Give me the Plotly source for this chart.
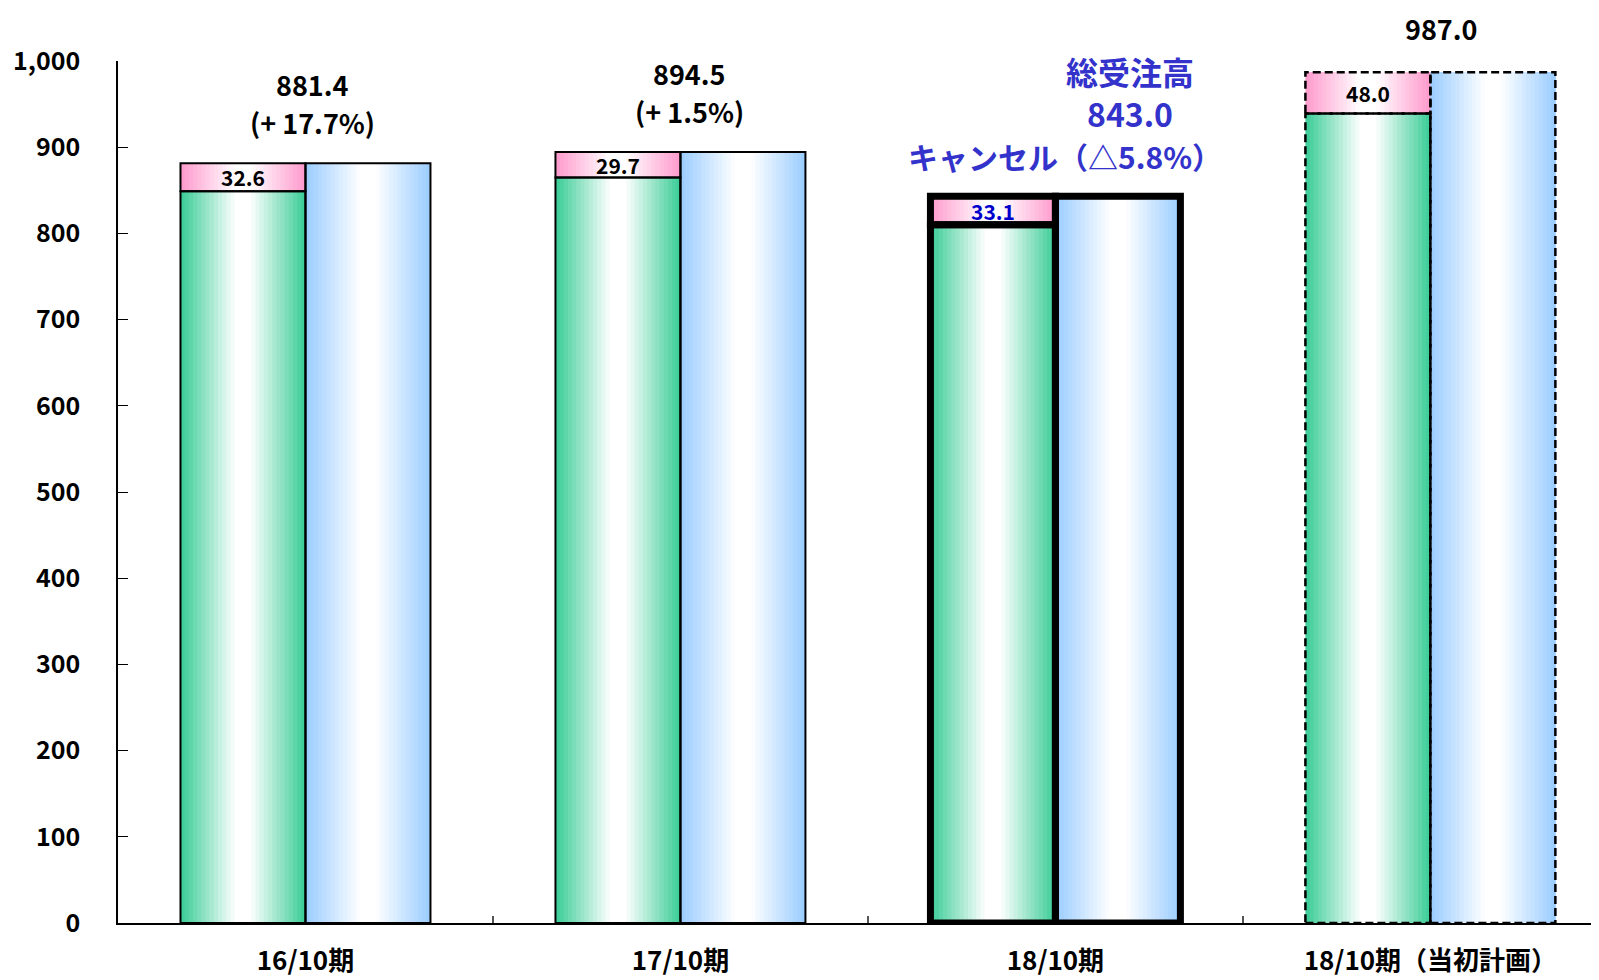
import plotly.graph_objects as go

# ---- data ----
categories = ["16/10期", "17/10期", "18/10期", "18/10期（当初計画）"]
total_orders = [881.4, 894.5, 843.0, 987.0]
cancels = [32.6, 29.7, 33.1, 48.0]
growth_labels = ["(+ 17.7%)", "(+ 1.5%)", "（△5.8%）", ""]
y_ticks = [0, 100, 200, 300, 400, 500, 600, 700, 800, 900, 1000]

net_orders = [t - c for t, c in zip(total_orders, cancels)]
xs = list(range(len(categories)))

FONT = "Noto Sans CJK JP"
GREEN = (56, 204, 150)
BLUE = (153, 204, 255)
PINK = (255, 153, 204)
BAR_W = 1 / 3
N_STRIPS = 30


def grad_color(edge, t):
    d = abs(t - 0.5) * 2
    f = max(0.0, min(1.0, (d - 0.12) / 0.88))
    r, g, b = [round(255 + (e - 255) * f) for e in edge]
    return f"rgb({r},{g},{b})"


fig = go.Figure()


def add_gradient_bars(offset0, edge, y, base=None):
    for k in range(N_STRIPS):
        t = (k + 0.5) / N_STRIPS
        start = offset0 + BAR_W * k / N_STRIPS
        fig.add_trace(go.Bar(
            x=xs, y=y, base=base,
            offset=start, width=BAR_W - BAR_W * k / N_STRIPS,
            marker=dict(color=grad_color(edge, t), line=dict(width=0)),
            hoverinfo="skip", showlegend=False,
        ))


# green (net orders), pink (cancels) stacked on it, blue (total)
add_gradient_bars(-BAR_W, GREEN, net_orders)
add_gradient_bars(-BAR_W, PINK, cancels, base=net_orders)
add_gradient_bars(0, BLUE, total_orders)

# outlines (solid ones; last group dashed via shapes)
line_w = [2, 2, 7, 0]
outline = dict(color="rgba(0,0,0,0)", line=dict(color="black", width=line_w))
fig.add_trace(go.Bar(x=xs, y=net_orders, offset=-BAR_W, width=BAR_W,
                     marker=outline, hoverinfo="skip", showlegend=False))
fig.add_trace(go.Bar(x=xs, y=cancels, base=net_orders, offset=-BAR_W, width=BAR_W,
                     marker=outline, hoverinfo="skip", showlegend=False))
fig.add_trace(go.Bar(x=xs, y=total_orders, offset=0, width=BAR_W,
                     marker=outline, hoverinfo="skip", showlegend=False))

shapes = []
i = 3
dash_line = dict(color="black", width=2.5, dash="8px,4px")
shapes.append(dict(type="rect", xref="x", yref="y", x0=i - BAR_W, x1=i,
                   y0=0, y1=net_orders[i], line=dash_line))
shapes.append(dict(type="rect", xref="x", yref="y", x0=i - BAR_W, x1=i,
                   y0=net_orders[i], y1=total_orders[i], line=dash_line))
shapes.append(dict(type="rect", xref="x", yref="y", x0=i, x1=i + BAR_W,
                   y0=0, y1=total_orders[i], line=dash_line))

annotations = []
# cancel labels inside pink segments
for i in xs:
    annotations.append(dict(
        x=i - BAR_W / 2, y=net_orders[i] + cancels[i] / 2, xref="x", yref="y",
        text=f"{cancels[i]:.1f}", showarrow=False, yanchor="middle",
        font=dict(family=FONT, size=21, color="#0000cc" if i == 2 else "black", weight="bold"),
    ))

black_font = dict(family=FONT, size=27, color="black", weight="bold")
# group 1
annotations.append(dict(x=0.02, y=973, text=f"{total_orders[0]:.1f}", showarrow=False,
                        yanchor="middle", font=black_font))
annotations.append(dict(x=0.02, y=929, text=growth_labels[0], showarrow=False,
                        yanchor="middle", font=black_font))
# group 2
annotations.append(dict(x=1.025, y=985, text=f"{total_orders[1]:.1f}", showarrow=False,
                        yanchor="middle", font=black_font))
annotations.append(dict(x=1.025, y=941, text=growth_labels[1], showarrow=False,
                        yanchor="middle", font=black_font))
# group 3 (blue)
blue_c = "#3333cc"
annotations.append(dict(x=2.2, y=964, text="総受注高<br>" + f"{total_orders[2]:.1f}",
                        showarrow=False, yanchor="middle",
                        font=dict(family=FONT, size=32, color=blue_c, weight="bold")))
annotations.append(dict(x=2.45, y=890, xanchor="right", yanchor="middle",
                        text="キャンセル" + growth_labels[2], showarrow=False,
                        font=dict(family=FONT, size=30, color=blue_c, weight="bold")))
# group 4 (above the plot area -> paper coords)
annotations.append(dict(x=3.03, y=1.038, yref="paper", yanchor="middle",
                        text=f"{total_orders[3]:.1f}", showarrow=False, font=black_font))

fig.update_layout(
    width=1599, height=980,
    margin=dict(l=110, r=0, t=53, b=65),
    paper_bgcolor="white", plot_bgcolor="white",
    barmode="overlay",
    showlegend=False,
    shapes=shapes,
    annotations=annotations,
    xaxis=dict(
        range=[-0.5, 3.471],
        tickmode="array", tickvals=xs, ticktext=categories,
        ticks="", showgrid=False, zeroline=False,
        showline=True, linecolor="black", linewidth=1.5,
        tickfont=dict(family=FONT, size=26, color="black", weight="bold"),
        ticklabelstandoff=14,
        minor=dict(tickmode="array", tickvals=[0.5, 1.5, 2.5], ticks="inside",
                   ticklen=7, tickcolor="#555555", tickwidth=1.5),
    ),
    yaxis=dict(
        range=[0, 1000],
        tickmode="array", tickvals=y_ticks,
        tickformat=",d",
        ticks="inside", ticklen=10, tickcolor="black", tickwidth=1,
        showgrid=False, zeroline=False,
        showline=True, linecolor="black", linewidth=1.5,
        tickfont=dict(family=FONT, size=25, color="black", weight="bold"),
        ticklabelstandoff=31,
    ),
)

fig.write_html("out.html")
